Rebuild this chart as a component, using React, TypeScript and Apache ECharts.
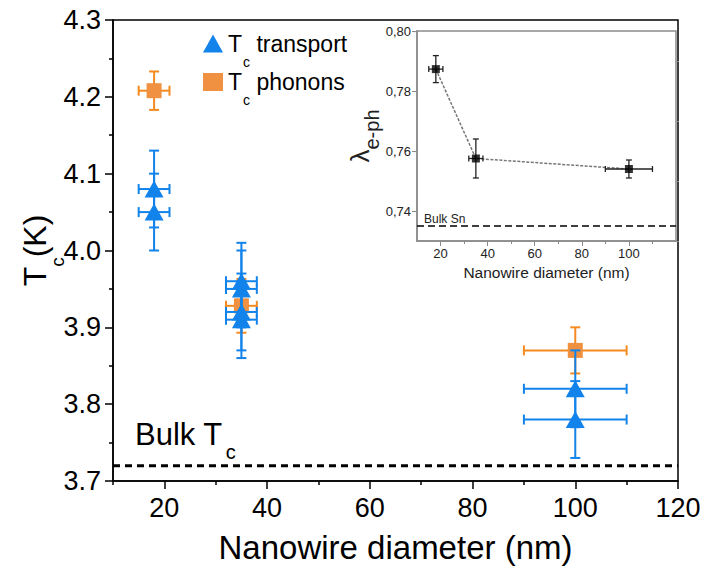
import React, { useEffect, useRef } from 'react';
import * as echarts from 'echarts';

const FONT = '"Liberation Sans", Arial, Helvetica, sans-serif';

// ---- main chart data ----
const transportX = [18, 18, 35, 35, 35, 35, 100, 100];
const transportY = [4.08, 4.05, 3.96, 3.95, 3.92, 3.91, 3.82, 3.78];
const transportXErr = [3, 3, 3, 3, 3, 3, 10, 10];
const transportYErr = [0.05, 0.05, 0.05, 0.05, 0.05, 0.05, 0.05, 0.05];

const phononX = [18, 35, 100];
const phononY = [4.208, 3.928, 3.87];
const phononXErr = [3, 3, 10];
const phononYErr = [0.025, 0.035, 0.03];

const bulkTc = 3.72;

const mainXRange = [10, 120];
const mainYRange = [3.7, 4.3];
const mainXTicks = [20, 40, 60, 80, 100, 120];
const mainXMinor = [10, 30, 50, 70, 90, 110];

// ---- inset data ----
const lambdaX = [18, 35, 100];
const lambdaY = [0.7873, 0.7575, 0.754];
const lambdaXErr = [3, 3, 10];
const lambdaYErr = [0.0045, 0.0065, 0.003];
const bulkSnLambda = 0.735;

const insetXRange = [10, 120];
const insetYRange = [0.73, 0.8];
const insetXTicks = [20, 40, 60, 80, 100];
const insetXMinor = [30, 50, 70, 90, 110];
const insetYTicks = [0.74, 0.76, 0.78, 0.8];
const insetYMinor = [0.73, 0.75, 0.77, 0.79];

const BLUE = '#1283EA';
const ORANGE = '#F58A1F';
const ORANGE_FILL = '#EF9140';

function errorBars(
  name: string,
  xs: number[],
  ys: number[],
  xe: number[],
  ye: number[],
  color: string,
  lineWidth: number,
  cap: number,
  xAxisIndex: number,
  yAxisIndex: number,
  z: number
) {
  return {
    type: 'custom',
    name,
    xAxisIndex,
    yAxisIndex,
    z,
    silent: true,
    data: xs.map((x, i) => [x, ys[i], xe[i], ye[i]]),
    encode: { x: 0, y: 1 },
    renderItem: (_params: any, api: any) => {
      const x = api.value(0);
      const y = api.value(1);
      const dx = api.value(2);
      const dy = api.value(3);
      const l = api.coord([x - dx, y]);
      const r = api.coord([x + dx, y]);
      const t = api.coord([x, y + dy]);
      const b = api.coord([x, y - dy]);
      const style = { stroke: color, lineWidth, fill: 'none' };
      const ln = (x1: number, y1: number, x2: number, y2: number) => ({
        type: 'line',
        shape: { x1, y1, x2, y2 },
        style,
      });
      return {
        type: 'group',
        children: [
          ln(l[0], l[1], r[0], r[1]),
          ln(l[0], l[1] - cap, l[0], l[1] + cap),
          ln(r[0], r[1] - cap, r[0], r[1] + cap),
          ln(t[0], t[1], b[0], b[1]),
          ln(t[0] - cap, t[1], t[0] + cap, t[1]),
          ln(b[0] - cap, b[1], b[0] + cap, b[1]),
        ],
      };
    },
  };
}

export default function App() {
  const ref = useRef<HTMLDivElement>(null);

  useEffect(() => {
    if (!ref.current) return;
    const chart = echarts.init(ref.current, undefined, { renderer: 'svg' });

    const mainLabel = { fontFamily: FONT, fontSize: 27, color: '#000' };
    const insetLabel = { fontFamily: FONT, fontSize: 13, color: '#222' };
    const GRAY = '#8a8a8a';

    const option: any = {
      animation: false,
      backgroundColor: '#fff',
      textStyle: { fontFamily: FONT },
      grid: [
        {
          left: 113,
          top: 20,
          right: 39,
          bottom: 88,
          show: true,
          borderColor: '#000',
          borderWidth: 1.5,
          backgroundColor: 'transparent',
        },
        {
          left: 417,
          top: 31,
          right: 41,
          bottom: 328,
          show: true,
          borderColor: GRAY,
          borderWidth: 1.5,
          backgroundColor: '#fff',
          z: 5,
        },
      ],
      legend: {
        data: [
          { name: 'transport', icon: 'triangle' },
          { name: 'phonons', icon: 'rect' },
        ],
        orient: 'vertical',
        left: 198,
        top: 27,
        itemWidth: 20,
        itemHeight: 18,
        itemGap: 2,
        formatter: (n: string) => `{a|T}{b|c}{a| ${n}}`,
        textStyle: {
          fontFamily: FONT,
          rich: {
            a: { fontFamily: FONT, fontSize: 23, color: '#000', lineHeight: 26 },
            b: {
              fontFamily: FONT,
              fontSize: 14,
              color: '#000',
              verticalAlign: 'bottom',
              lineHeight: 26,
              padding: [0, 0, -12, 1],
            },
          },
        },
        selectedMode: false,
      },
      xAxis: [
        {
          type: 'value',
          gridIndex: 0,
          min: mainXRange[0],
          max: mainXRange[1],
          position: 'bottom',
          name: 'Nanowire diameter (nm)',
          nameLocation: 'middle',
          nameGap: 50,
          nameTextStyle: { fontFamily: FONT, fontSize: 33, color: '#000' },
          axisLine: { lineStyle: { color: '#000', width: 1.5 } },
          axisTick: { customValues: mainXTicks, length: 8, lineStyle: { color: '#000', width: 1.5 } },
          axisLabel: { ...mainLabel, customValues: mainXTicks, margin: 13 },
          splitLine: { show: false },
        },
        {
          type: 'value',
          gridIndex: 0,
          min: mainXRange[0],
          max: mainXRange[1],
          position: 'bottom',
          axisLine: { show: false },
          axisTick: { customValues: mainXMinor, length: 4, lineStyle: { color: '#000', width: 1.5 } },
          axisLabel: { show: false },
          splitLine: { show: false },
        },
        {
          type: 'value',
          gridIndex: 1,
          min: insetXRange[0],
          max: insetXRange[1],
          position: 'bottom',
          name: 'Nanowire diameter (nm)',
          nameLocation: 'middle',
          nameGap: 23,
          nameTextStyle: { fontFamily: FONT, fontSize: 15.5, color: '#222' },
          axisLine: { lineStyle: { color: GRAY, width: 1.5 } },
          axisTick: { customValues: insetXTicks, length: 5, lineStyle: { color: GRAY, width: 1 } },
          axisLabel: { ...insetLabel, customValues: insetXTicks, margin: 6 },
          splitLine: { show: false },
          z: 6,
        },
        {
          type: 'value',
          gridIndex: 1,
          min: insetXRange[0],
          max: insetXRange[1],
          position: 'bottom',
          axisLine: { show: false },
          axisTick: { customValues: insetXMinor, length: 3, lineStyle: { color: GRAY, width: 1 } },
          axisLabel: { show: false },
          splitLine: { show: false },
          z: 6,
        },
      ],
      yAxis: [
        {
          type: 'value',
          gridIndex: 0,
          min: mainYRange[0],
          max: mainYRange[1],
          interval: 0.1,
          name: '{a|T}{b|c}{a|(K)}',
          nameLocation: 'middle',
          nameGap: 60,
          nameMoveOverlap: false,
          nameRotate: 90,
          nameTextStyle: {
            rich: {
              a: { fontFamily: FONT, fontSize: 32, color: '#000', lineHeight: 36 },
              b: {
                fontFamily: FONT,
                fontSize: 19,
                color: '#000',
                verticalAlign: 'bottom',
                lineHeight: 36,
                padding: [0, 0, -14, 0],
              },
            },
          },
          axisLine: { lineStyle: { color: '#000', width: 1.5 } },
          axisTick: { length: 8, lineStyle: { color: '#000', width: 1.5 } },
          minorTick: { show: true, splitNumber: 2, length: 4, lineStyle: { color: '#000', width: 1.5 } },
          axisLabel: { ...mainLabel, margin: 12, formatter: (v: number) => v.toFixed(1) },
          splitLine: { show: false },
          minorSplitLine: { show: false },
        },
        {
          type: 'value',
          gridIndex: 1,
          min: insetYRange[0],
          max: insetYRange[1],
          name: '{a|λ}{b|e-ph}',
          nameLocation: 'middle',
          nameGap: 38,
          nameRotate: 90,
          nameTextStyle: {
            rich: {
              a: { fontFamily: FONT, fontSize: 26, color: '#222', lineHeight: 28 },
              b: {
                fontFamily: FONT,
                fontSize: 20,
                color: '#222',
                verticalAlign: 'bottom',
                lineHeight: 28,
                padding: [0, 0, -8, 0],
              },
            },
          },
          axisLine: { lineStyle: { color: GRAY, width: 1.5 } },
          axisTick: { customValues: insetYTicks, length: 5, lineStyle: { color: GRAY, width: 1 } },
          axisLabel: {
            ...insetLabel,
            customValues: insetYTicks,
            margin: 6,
            formatter: (v: number) => v.toFixed(2).replace('.', ','),
          },
          splitLine: { show: false },
          z: 6,
        },
        {
          type: 'value',
          gridIndex: 1,
          min: insetYRange[0],
          max: insetYRange[1],
          axisLine: { show: false },
          axisTick: { customValues: insetYMinor, length: 3, lineStyle: { color: GRAY, width: 1 } },
          axisLabel: { show: false },
          splitLine: { show: false },
          z: 6,
        },
      ],
      series: [
        errorBars('phonons-err', phononX, phononY, phononXErr, phononYErr, ORANGE, 2, 5, 0, 0, 2),
        {
          type: 'scatter',
          name: 'phonons',
          xAxisIndex: 0,
          yAxisIndex: 0,
          z: 3,
          symbol: 'rect',
          symbolSize: 15,
          itemStyle: { color: ORANGE_FILL, opacity: 1 },
          data: phononX.map((x, i) => [x, phononY[i]]),
        },
        {
          type: 'line',
          name: 'bulk-tc',
          xAxisIndex: 0,
          yAxisIndex: 0,
          z: 3,
          symbol: 'none',
          silent: true,
          lineStyle: { color: '#000', width: 3, type: [7, 5] },
          data: mainXRange.map((x) => [x, bulkTc]),
        },
        errorBars('transport-err', transportX, transportY, transportXErr, transportYErr, BLUE, 2, 5, 0, 0, 4),
        {
          type: 'scatter',
          name: 'transport',
          xAxisIndex: 0,
          yAxisIndex: 0,
          z: 5,
          symbol: 'triangle',
          symbolSize: [19, 17],
          itemStyle: { color: BLUE, opacity: 1 },
          data: transportX.map((x, i) => [x, transportY[i]]),
        },
        // inset
        {
          type: 'line',
          name: 'bulk-sn',
          xAxisIndex: 2,
          yAxisIndex: 1,
          z: 7,
          symbol: 'none',
          silent: true,
          lineStyle: { color: '#000', width: 1.5, type: [7, 4] },
          data: insetXRange.map((x) => [x, bulkSnLambda]),
        },
        {
          type: 'line',
          name: 'lambda-line',
          xAxisIndex: 2,
          yAxisIndex: 1,
          z: 7,
          symbol: 'none',
          lineStyle: { color: '#777', width: 1.5, type: [3, 1.5] },
          data: lambdaX.map((x, i) => [x, lambdaY[i]]),
        },
        errorBars('lambda-err', lambdaX, lambdaY, lambdaXErr, lambdaYErr, '#222', 1.3, 3, 2, 1, 8),
        {
          type: 'scatter',
          name: 'lambda',
          xAxisIndex: 2,
          yAxisIndex: 1,
          z: 9,
          symbol: 'rect',
          symbolSize: 8,
          itemStyle: { color: '#000' },
          data: lambdaX.map((x, i) => [x, lambdaY[i]]),
        },
      ],
      graphic: [
        {
          type: 'text',
          left: 135,
          top: 419,
          style: {
            text: '{a|Bulk T}{b|c}',
            rich: {
              a: { fontFamily: FONT, fontSize: 31, fill: '#000', lineHeight: 34 },
              b: {
                fontFamily: FONT,
                fontSize: 20,
                fill: '#000',
                verticalAlign: 'bottom',
                lineHeight: 34,
                padding: [0, 0, -10, 3],
              },
            },
          },
        },
        {
          type: 'text',
          left: 424,
          top: 213,
          z: 10,
          style: { text: 'Bulk Sn', fontFamily: FONT, fontSize: 12, fill: '#222' },
        },
      ],
    };

    chart.setOption(option);
    return () => chart.dispose();
  }, []);

  return (
    <div
      ref={ref}
      style={{ position: 'absolute', left: 0, top: 0, width: 717, height: 569 }}
    />
  );
}
